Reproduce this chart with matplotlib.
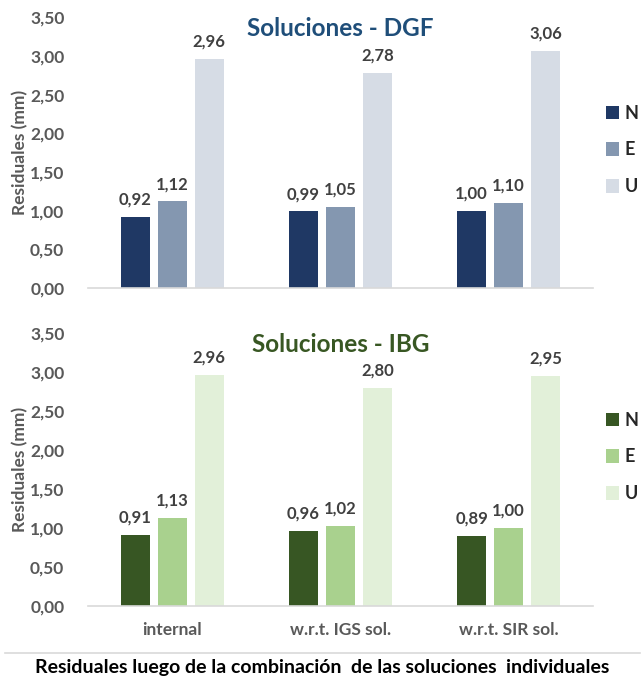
import matplotlib
matplotlib.use("Agg")
import matplotlib.pyplot as plt
import numpy as np

plt.rcParams['font.family'] = ['Lato', 'DejaVu Sans']

categories = ["internal", "w.r.t. IGS sol.", "w.r.t. SIR sol."]
components = ["N", "E", "U"]
dgf_N = [0.92, 0.99, 1.00]
dgf_E = [1.12, 1.05, 1.10]
dgf_U = [2.96, 2.78, 3.06]
ibg_N = [0.91, 0.96, 0.89]
ibg_E = [1.13, 1.02, 1.00]
ibg_U = [2.96, 2.80, 2.95]
yticks = [0.0, 0.5, 1.0, 1.5, 2.0, 2.5, 3.0, 3.5]

dgf_colors = ["#1f3864", "#8497b0", "#d6dce5"]
ibg_colors = ["#375623", "#a9d18e", "#e2f0d9"]
gray = "#595959"


def coma(v):
    return ("%.2f" % v).replace(".", ",")


def panel(ax, series, colors, title, title_color, legend_y, show_x):
    x = np.arange(len(categories))
    w = 0.172
    step = 0.22
    handles = []
    for i, (vals, col) in enumerate(zip(series, colors)):
        bars = ax.bar(x + (i - 1) * step, vals, width=w, color=col, label=components[i])
        handles.append(bars)
        for b, v in zip(bars, vals):
            ax.text(b.get_x() + b.get_width() / 2, v + 0.12, coma(v), ha='center', va='bottom',
                    fontsize=12, fontweight='bold', color="#404040")
    ax.set_xlim(-0.5, 2.5)
    ax.set_ylim(0, 3.5)
    ax.set_yticks(yticks)
    ax.set_yticklabels([coma(t) for t in yticks], fontsize=12.5, color=gray, fontweight='bold')
    for s in ['top', 'right', 'left']:
        ax.spines[s].set_visible(False)
    ax.spines['bottom'].set_color("#d9d9d9")
    ax.spines['bottom'].set_linewidth(1.2)
    ax.tick_params(axis='both', length=0)
    ax.tick_params(axis='y', pad=17)
    ax.set_xticks(x)
    if show_x:
        ax.set_xticklabels(categories, fontsize=12.5, color=gray, fontweight='bold')
        ax.tick_params(axis='x', pad=12)
    else:
        ax.set_xticklabels([])
    ax.set_ylabel("Residuales (mm)", fontsize=12.5, color=gray, fontweight='bold', labelpad=1)
    ax.set_title(title, fontsize=17.5, fontweight='bold', color=title_color, y=0.9)
    leg = ax.legend(handles=handles, loc='center left', bbox_to_anchor=(1.0, legend_y), frameon=False,
                    handlelength=0.75, handleheight=0.75, handletextpad=0.3, labelspacing=1.1,
                    borderaxespad=0.3, prop={'size': 13, 'weight': 'bold'})
    for t in leg.get_texts():
        t.set_color("#262626")


fig = plt.figure(figsize=(6.44, 6.79), dpi=100)
ax1 = fig.add_axes([0.1366, 0.5758, 0.784, 0.399])
ax2 = fig.add_axes([0.1366, 0.1082, 0.784, 0.401])

panel(ax1, [dgf_N, dgf_E, dgf_U], dgf_colors, "Soluciones - DGF", "#1f4e79", 0.51, False)
panel(ax2, [ibg_N, ibg_E, ibg_U], ibg_colors, "Soluciones - IBG", "#385723", 0.546, True)

fig.add_artist(plt.Line2D([0.008, 0.994], [1 - 653 / 679, 1 - 653 / 679], color="#d9d9d9", lw=1.2))
fig.text(0.5, 1 - 667 / 679, "Residuales luego de la combinación  de las soluciones  individuales",
         ha='center', va='center', fontsize=14, fontweight='bold', color="black")

fig.savefig("out.png", dpi=100)
